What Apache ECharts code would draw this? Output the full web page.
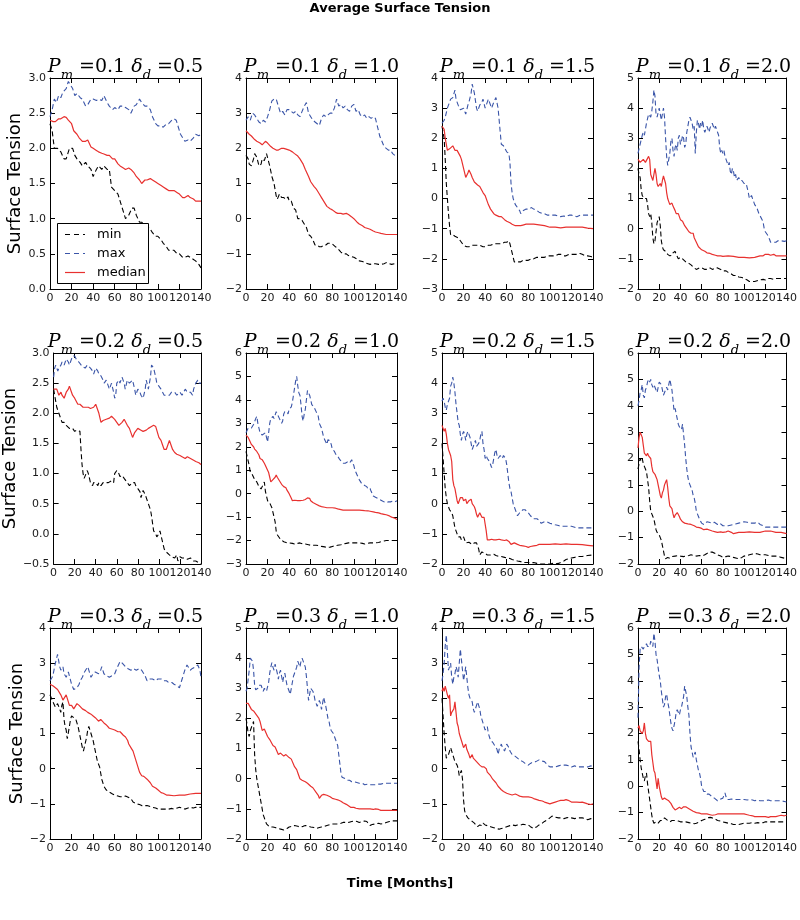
<!DOCTYPE html>
<html>
<head>
<meta charset="utf-8">
<script src="https://cdn.jsdelivr.net/npm/echarts@6/dist/echarts.min.js"></script>
<style>html,body{margin:0;padding:0;background:#fff}#c{width:800px;height:920px}</style>
</head>
<body>
<div id="c"></div>
<script>
// ---- Data (month, value) ----
const pmValues = ['0.1', '0.2', '0.3'];
const deltaValues = ['0.5', '1.0', '1.5', '2.0'];
const xTicks = [0, 20, 40, 60, 80, 100, 120, 140];
const yMin = [0, -2, -3, -2, -0.5, -3, -2, -2, -2, -2, -2, -2];
const yMax = [3, 4, 4, 5, 3, 6, 5, 6, 4, 5, 4, 6];
const yStep = [0.5, 1, 1, 1, 0.5, 1, 1, 1, 1, 1, 1, 1];
const seriesNames = ['min', 'max', 'median'];

// Pm=0.1 delta=0.5
const min1 = [[0,2.35],[2,2.25],[4,2.0],[7,2.0],[10,1.95],[13,1.85],[15,1.85],[18,2.0],[21,2.0],[23,1.9],[25,1.85],[28,1.8],[30,1.75],[33,1.8],[35,1.75],[38,1.7],[40,1.6],[43,1.7],[45,1.75],[48,1.7],[50,1.75],[53,1.7],[55,1.7],[57,1.45],[60,1.4],[63,1.35],[65,1.25],[68,1.1],[70,1.0],[73,1.05],[76,1.15],[78,1.15],[80,1.05],[83,0.95],[85,0.95],[88,0.9],[90,0.9],[93,0.85],[95,0.8],[98,0.75],[100,0.75],[103,0.7],[105,0.65],[108,0.6],[110,0.55],[113,0.55],[115,0.55],[118,0.5],[120,0.5],[123,0.45],[125,0.45],[128,0.47],[130,0.45],[133,0.42],[135,0.4],[138,0.35],[140,0.3]];
const max1 = [[0,2.45],[2,2.55],[4,2.7],[6,2.65],[8,2.75],[10,2.72],[12,2.8],[15,2.85],[17,2.95],[19,2.9],[21,2.85],[23,2.75],[25,2.78],[28,2.72],[30,2.7],[33,2.6],[35,2.62],[38,2.7],[40,2.7],[43,2.68],[45,2.7],[48,2.68],[50,2.75],[53,2.65],[55,2.6],[58,2.55],[60,2.58],[63,2.55],[65,2.6],[68,2.6],[70,2.58],[73,2.55],[75,2.5],[78,2.6],[80,2.62],[83,2.7],[85,2.65],[88,2.6],[90,2.6],[93,2.55],[95,2.45],[98,2.35],[100,2.32],[103,2.32],[105,2.3],[108,2.35],[110,2.35],[113,2.4],[115,2.42],[117,2.4],[119,2.3],[121,2.2],[123,2.15],[125,2.1],[128,2.12],[130,2.1],[133,2.15],[135,2.2],[138,2.18],[140,2.2]];
const med1 = [[0,2.4],[3,2.38],[5,2.38],[8,2.42],[10,2.42],[13,2.45],[15,2.44],[17,2.4],[20,2.35],[22,2.25],[25,2.2],[27,2.15],[30,2.1],[33,2.1],[35,2.12],[38,2.02],[40,2.0],[43,1.97],[45,1.95],[48,1.93],[50,1.92],[53,1.9],[55,1.9],[58,1.85],[60,1.85],[63,1.78],[65,1.75],[68,1.72],[70,1.7],[73,1.72],[75,1.7],[78,1.65],[80,1.6],[83,1.55],[85,1.5],[88,1.55],[90,1.55],[93,1.57],[95,1.55],[98,1.52],[100,1.5],[103,1.47],[105,1.45],[108,1.42],[110,1.4],[113,1.4],[115,1.4],[118,1.37],[120,1.35],[123,1.3],[125,1.3],[128,1.33],[130,1.3],[133,1.28],[135,1.25],[138,1.25],[140,1.25]];

// Pm=0.1 delta=1.0
const min2 = [[0,1.8],[2,1.7],[3,1.55],[5,1.5],[7,1.7],[8,1.85],[10,1.75],[12,1.5],[14,1.55],[15,1.7],[17,1.65],[19,1.85],[20,1.9],[22,1.5],[24,1.2],[26,1.0],[28,0.65],[29,0.55],[31,0.7],[33,0.6],[35,0.6],[37,0.55],[39,0.62],[40,0.5],[42,0.5],[44,0.3],[46,0.25],[48,0.0],[50,0.0],[52,-0.05],[54,-0.15],[56,-0.25],[58,-0.45],[60,-0.5],[62,-0.6],[64,-0.75],[66,-0.75],[68,-0.8],[70,-0.8],[72,-0.75],[74,-0.75],[76,-0.7],[78,-0.7],[80,-0.72],[83,-0.8],[85,-0.85],[88,-0.95],[90,-1.0],[93,-1.0],[95,-1.05],[98,-1.08],[100,-1.1],[103,-1.15],[105,-1.2],[108,-1.22],[110,-1.25],[113,-1.28],[115,-1.3],[118,-1.28],[120,-1.28],[123,-1.3],[125,-1.3],[128,-1.28],[130,-1.25],[133,-1.28],[135,-1.3],[138,-1.28],[140,-1.3]];
const max2 = [[0,2.8],[2,2.9],[4,2.8],[6,3.0],[8,2.95],[10,2.85],[12,2.75],[14,2.7],[16,2.8],[18,2.75],[20,2.9],[22,3.1],[24,3.35],[26,3.4],[28,3.4],[30,3.2],[32,3.0],[34,3.05],[36,2.95],[38,3.1],[40,3.1],[42,3.05],[44,3.0],[46,3.05],[48,2.95],[50,2.9],[52,3.05],[54,3.2],[56,3.3],[58,3.0],[60,2.9],[62,2.8],[64,2.75],[66,2.7],[68,2.65],[70,2.85],[72,2.95],[74,2.9],[76,2.95],[78,3.0],[80,3.0],[82,3.15],[84,3.4],[86,3.2],[88,3.25],[90,3.15],[92,3.2],[94,3.1],[96,3.05],[98,3.2],[100,3.25],[102,3.05],[104,3.1],[106,2.95],[108,2.9],[110,2.95],[112,2.85],[114,2.9],[116,2.85],[118,2.9],[120,2.85],[122,2.6],[124,2.35],[126,2.2],[128,2.05],[130,2.0],[132,1.95],[134,1.95],[136,1.85],[138,1.8],[140,1.75]];
const med2 = [[0,2.5],[3,2.4],[5,2.35],[8,2.25],[10,2.2],[13,2.15],[15,2.1],[18,2.2],[20,2.15],[23,2.05],[25,2.0],[28,1.95],[30,1.95],[33,2.0],[35,2.0],[38,1.97],[40,1.95],[43,1.9],[45,1.85],[48,1.78],[50,1.7],[53,1.55],[55,1.4],[58,1.2],[60,1.05],[63,0.92],[65,0.85],[68,0.7],[70,0.6],[73,0.45],[75,0.35],[78,0.28],[80,0.25],[83,0.18],[85,0.15],[88,0.15],[90,0.13],[93,0.15],[95,0.12],[98,0.05],[100,0.0],[103,-0.1],[105,-0.15],[108,-0.2],[110,-0.25],[113,-0.28],[115,-0.3],[118,-0.35],[120,-0.38],[123,-0.4],[125,-0.42],[130,-0.45],[135,-0.45],[140,-0.45]];

// Pm=0.1 delta=1.5
const min3 = [[0,2.4],[2,2.0],[3,1.3],[4,0.5],[5,0.0],[6,-0.5],[7,-0.9],[8,-1.2],[10,-1.2],[12,-1.25],[15,-1.3],[17,-1.4],[20,-1.55],[23,-1.6],[25,-1.6],[28,-1.55],[30,-1.55],[33,-1.55],[35,-1.55],[38,-1.6],[40,-1.6],[43,-1.55],[45,-1.55],[48,-1.5],[50,-1.5],[53,-1.5],[55,-1.5],[58,-1.45],[60,-1.45],[62,-1.4],[63,-1.5],[64,-1.65],[66,-1.95],[67,-2.1],[68,-2.15],[70,-2.1],[73,-2.1],[75,-2.05],[78,-2.05],[80,-2.05],[83,-2.0],[85,-2.0],[88,-1.95],[90,-1.95],[93,-1.95],[95,-1.95],[98,-1.9],[100,-1.9],[105,-1.9],[108,-1.85],[110,-1.85],[113,-1.9],[115,-1.9],[118,-1.85],[120,-1.85],[125,-1.85],[128,-1.82],[130,-1.85],[133,-1.9],[135,-1.9],[138,-1.92],[140,-1.95]];
const max3 = [[0,2.5],[2,2.6],[3,2.7],[5,3.0],[7,3.2],[8,3.3],[10,3.35],[12,3.6],[13,3.3],[15,3.1],[17,2.95],[18,2.9],[20,3.0],[22,2.8],[24,3.1],[25,3.2],[27,3.5],[28,3.8],[30,3.5],[32,3.0],[33,2.9],[35,3.1],[37,3.2],[38,3.3],[40,3.0],[42,3.2],[43,3.3],[45,3.1],[46,3.0],[48,3.2],[50,3.35],[52,3.0],[53,2.6],[54,2.2],[55,1.8],[57,1.75],[58,1.7],[60,1.55],[62,1.5],[63,1.2],[64,0.5],[65,0.2],[66,0.0],[68,-0.2],[70,-0.3],[72,-0.4],[73,-0.5],[75,-0.4],[78,-0.35],[80,-0.35],[83,-0.3],[85,-0.35],[88,-0.4],[90,-0.45],[93,-0.5],[95,-0.5],[98,-0.55],[100,-0.55],[105,-0.55],[110,-0.6],[113,-0.58],[115,-0.6],[118,-0.55],[120,-0.55],[123,-0.58],[125,-0.6],[128,-0.55],[130,-0.55],[135,-0.55],[140,-0.55]];
const med3 = [[0,2.4],[2,2.3],[3,2.0],[5,1.6],[7,1.65],[8,1.7],[10,1.75],[12,1.6],[14,1.6],[15,1.55],[17,1.4],[18,1.3],[20,1.0],[22,0.7],[24,0.85],[25,0.95],[27,0.8],[28,0.7],[30,0.55],[33,0.45],[35,0.4],[38,0.2],[40,0.1],[42,-0.1],[43,-0.2],[45,-0.35],[46,-0.4],[48,-0.5],[50,-0.55],[53,-0.6],[55,-0.6],[58,-0.7],[60,-0.75],[63,-0.8],[65,-0.85],[68,-0.9],[70,-0.9],[73,-0.9],[75,-0.88],[78,-0.85],[80,-0.85],[85,-0.85],[90,-0.87],[95,-0.9],[100,-0.95],[105,-0.95],[110,-0.97],[115,-0.95],[120,-0.95],[125,-0.95],[130,-0.95],[135,-0.98],[140,-1.0]];

// Pm=0.1 delta=2.0
const min4 = [[0,2.0],[1,1.8],[2,1.7],[3,1.3],[4,1.1],[5,1.05],[6,1.0],[7,1.0],[8,1.0],[9,0.8],[10,0.5],[11,0.4],[12,0.5],[13,0.2],[14,-0.3],[15,-0.5],[16,-0.4],[17,-0.1],[18,0.2],[19,0.3],[20,0.4],[21,0.1],[22,-0.4],[23,-0.6],[24,-0.7],[26,-0.75],[28,-0.85],[30,-0.9],[32,-0.88],[33,-0.8],[35,-0.75],[36,-0.85],[38,-1.0],[40,-0.95],[42,-1.0],[45,-1.1],[48,-1.15],[50,-1.2],[53,-1.3],[55,-1.35],[58,-1.3],[60,-1.3],[63,-1.35],[65,-1.35],[68,-1.3],[70,-1.35],[73,-1.3],[75,-1.3],[78,-1.35],[80,-1.4],[83,-1.4],[85,-1.45],[88,-1.5],[90,-1.55],[93,-1.55],[95,-1.6],[98,-1.62],[100,-1.65],[103,-1.7],[105,-1.75],[108,-1.75],[110,-1.75],[113,-1.72],[115,-1.7],[118,-1.68],[120,-1.7],[123,-1.65],[125,-1.65],[128,-1.68],[130,-1.65],[135,-1.65],[140,-1.65]];
const max4 = [[0,2.5],[2,2.8],[4,3.1],[5,3.2],[6,3.1],[8,3.5],[10,3.8],[12,3.7],[13,3.9],[14,4.2],[15,4.6],[16,4.4],[17,3.8],[18,3.7],[20,4.0],[21,3.8],[22,3.6],[24,4.0],[25,3.7],[26,3.0],[27,2.4],[28,2.1],[29,2.3],[30,2.5],[31,2.9],[32,3.0],[33,2.6],[34,2.4],[35,2.7],[36,2.8],[37,2.6],[38,3.0],[39,3.1],[40,2.8],[41,2.9],[42,3.1],[43,3.0],[44,2.7],[45,2.8],[46,3.2],[48,3.6],[49,3.7],[50,3.6],[51,3.5],[52,3.3],[53,3.4],[54,2.5],[55,3.2],[56,3.6],[57,3.5],[58,3.3],[59,3.5],[60,3.4],[61,3.6],[62,3.3],[63,3.2],[65,3.4],[66,3.3],[67,3.2],[68,3.35],[70,3.5],[71,3.4],[72,3.3],[73,3.4],[75,3.2],[76,3.1],[77,2.7],[78,2.5],[79,2.6],[80,2.5],[81,2.6],[82,2.4],[83,2.3],[84,2.2],[85,2.1],[86,2.2],[87,1.9],[88,1.8],[89,2.0],[90,1.9],[91,1.7],[92,1.8],[93,1.6],[95,1.7],[96,1.6],[97,1.55],[98,1.6],[100,1.5],[102,1.5],[103,1.45],[104,1.2],[105,1.0],[106,1.05],[107,1.1],[108,1.1],[109,0.9],[110,0.8],[112,0.7],[114,0.5],[115,0.5],[117,0.3],[118,0.2],[119,0.0],[120,-0.1],[122,-0.2],[124,-0.35],[125,-0.45],[128,-0.45],[130,-0.45],[132,-0.4],[135,-0.4],[138,-0.42],[140,-0.4]];
const med4 = [[0,2.3],[2,2.2],[3,2.2],[5,2.3],[7,2.2],[8,2.25],[10,2.4],[11,2.3],[12,1.8],[13,1.7],[14,1.6],[15,1.8],[16,2.0],[17,1.8],[18,1.5],[19,1.4],[20,1.4],[21,1.5],[22,1.4],[23,1.6],[24,1.75],[25,1.7],[26,1.5],[27,1.2],[28,1.0],[29,0.9],[30,0.8],[32,0.85],[33,0.75],[35,0.6],[36,0.5],[38,0.5],[40,0.3],[42,0.25],[44,0.1],[46,0.0],[48,-0.1],[50,-0.15],[51,-0.2],[52,-0.15],[53,-0.3],[54,-0.25],[55,-0.45],[57,-0.6],[58,-0.65],[60,-0.7],[63,-0.75],[65,-0.8],[68,-0.82],[70,-0.85],[73,-0.88],[75,-0.9],[78,-0.9],[80,-0.92],[85,-0.9],[90,-0.92],[95,-0.95],[100,-0.95],[105,-0.97],[110,-0.95],[115,-0.9],[118,-0.9],[120,-0.85],[123,-0.85],[125,-0.88],[128,-0.85],[130,-0.9],[135,-0.9],[140,-0.9]];

// Pm=0.2 delta=0.5
const min5 = [[0,2.4],[2,2.2],[3,2.1],[5,2.0],[7,1.9],[8,1.85],[10,1.85],[12,1.8],[15,1.75],[18,1.75],[20,1.7],[22,1.72],[23,1.75],[25,1.7],[26,1.4],[27,1.15],[28,1.0],[29,0.92],[30,0.95],[32,1.05],[33,1.0],[35,0.85],[37,0.8],[38,0.85],[40,0.85],[42,0.8],[43,0.85],[45,0.8],[47,0.85],[48,0.88],[50,0.85],[52,0.85],[55,0.88],[57,0.85],[58,1.0],[60,1.05],[62,1.0],[63,0.95],[65,0.97],[67,0.92],[68,0.9],[70,0.85],[72,0.8],[73,0.82],[75,0.85],[77,0.85],[78,0.8],[80,0.75],[82,0.7],[83,0.6],[85,0.72],[87,0.65],[88,0.6],[90,0.5],[92,0.4],[93,0.3],[95,0.05],[97,0.0],[98,-0.05],[100,0.0],[101,0.05],[103,-0.1],[105,-0.25],[107,-0.3],[110,-0.35],[112,-0.38],[115,-0.4],[117,-0.35],[118,-0.45],[120,-0.38],[122,-0.4],[125,-0.4],[127,-0.42],[130,-0.4],[133,-0.45],[135,-0.45],[138,-0.48],[140,-0.5]];
const max5 = [[0,2.6],[1,2.75],[2,2.8],[4,2.7],[5,2.75],[7,2.8],[8,2.85],[10,2.8],[12,2.9],[14,2.85],[15,2.8],[17,2.9],[18,2.95],[20,2.95],[22,2.88],[24,2.85],[25,2.85],[27,2.78],[28,2.8],[30,2.75],[32,2.8],[33,2.8],[35,2.75],[37,2.7],[38,2.65],[40,2.75],[42,2.7],[43,2.65],[45,2.62],[47,2.55],[48,2.5],[50,2.55],[52,2.45],[53,2.4],[55,2.5],[57,2.35],[58,2.25],[59,2.3],[60,2.5],[62,2.55],[63,2.5],[65,2.6],[67,2.5],[68,2.4],[70,2.55],[72,2.5],[73,2.5],[75,2.55],[77,2.4],[78,2.3],[80,2.4],[82,2.35],[83,2.3],[85,2.25],[87,2.4],[88,2.55],[90,2.4],[92,2.6],[93,2.8],[95,2.75],[97,2.6],[98,2.5],[100,2.45],[102,2.4],[103,2.4],[105,2.3],[107,2.3],[108,2.3],[110,2.3],[112,2.35],[115,2.35],[117,2.3],[118,2.3],[120,2.35],[122,2.3],[125,2.4],[127,2.35],[130,2.35],[132,2.3],[133,2.4],[135,2.5],[137,2.55],[138,2.5],[140,2.5]];
const med5 = [[0,2.4],[3,2.4],[5,2.3],[7,2.35],[8,2.3],[10,2.25],[12,2.35],[14,2.4],[15,2.45],[17,2.35],[18,2.3],[20,2.25],[23,2.15],[25,2.15],[28,2.1],[30,2.1],[33,2.1],[35,2.08],[38,2.1],[40,2.15],[42,2.05],[43,2.0],[45,1.85],[47,1.88],[48,1.9],[50,1.9],[53,1.92],[55,1.95],[58,1.9],[60,1.85],[62,1.8],[63,1.8],[65,1.85],[67,1.9],[68,1.9],[70,1.8],[72,1.75],[73,1.7],[75,1.6],[77,1.68],[78,1.7],[80,1.75],[83,1.72],[85,1.7],[88,1.72],[90,1.75],[93,1.78],[95,1.8],[97,1.78],[98,1.75],[100,1.6],[102,1.55],[103,1.5],[105,1.4],[107,1.4],[108,1.45],[110,1.55],[112,1.45],[113,1.4],[115,1.35],[117,1.32],[120,1.3],[122,1.28],[125,1.25],[127,1.28],[128,1.3],[130,1.25],[133,1.22],[135,1.2],[138,1.18],[140,1.15]];

// Pm=0.2 delta=1.0
const min6 = [[0,1.8],[1,1.6],[2,1.4],[3,1.2],[4,0.9],[5,0.85],[6,0.8],[7,0.7],[8,0.6],[10,0.5],[11,0.4],[12,0.3],[13,0.25],[14,0.2],[15,0.3],[16,0.4],[17,0.5],[18,0.1],[19,-0.1],[20,-0.3],[21,-0.35],[22,-0.4],[23,-0.5],[24,-0.6],[25,-0.8],[26,-1.0],[27,-1.2],[28,-1.6],[29,-1.75],[30,-1.8],[32,-1.95],[33,-2.0],[35,-2.05],[38,-2.1],[40,-2.1],[43,-2.12],[45,-2.15],[48,-2.12],[50,-2.1],[53,-2.15],[55,-2.15],[58,-2.18],[60,-2.2],[63,-2.2],[65,-2.2],[68,-2.22],[70,-2.25],[73,-2.27],[75,-2.3],[78,-2.28],[80,-2.25],[83,-2.22],[85,-2.2],[88,-2.18],[90,-2.15],[93,-2.12],[95,-2.1],[98,-2.1],[100,-2.1],[103,-2.1],[105,-2.1],[108,-2.12],[110,-2.15],[113,-2.12],[115,-2.1],[118,-2.1],[120,-2.1],[123,-2.08],[125,-2.05],[128,-2.02],[130,-2.0],[133,-2.0],[135,-2.0],[138,-2.0],[140,-2.0]];
const max6 = [[0,2.6],[2,2.8],[3,2.75],[5,2.8],[7,2.95],[8,3.0],[9,3.2],[10,3.3],[11,3.0],[12,2.8],[13,2.6],[15,2.5],[16,2.55],[18,2.6],[19,2.4],[20,2.2],[21,2.6],[22,3.0],[23,3.2],[25,3.3],[26,3.2],[28,3.5],[29,3.4],[30,3.4],[31,3.2],[33,3.0],[34,3.1],[35,3.4],[36,3.5],[38,3.5],[39,3.4],[40,3.6],[42,3.7],[43,3.9],[44,4.2],[45,4.5],[46,4.8],[47,5.0],[48,4.6],[49,4.3],[50,4.2],[51,3.8],[52,3.3],[53,3.1],[54,3.4],[55,3.6],[56,4.0],[57,4.4],[58,4.3],[59,4.2],[60,4.0],[61,3.8],[62,3.8],[63,3.7],[64,3.6],[65,3.5],[66,3.4],[67,3.3],[68,3.0],[69,2.9],[70,2.8],[71,2.6],[72,2.4],[73,2.3],[74,2.2],[75,2.1],[76,2.3],[78,2.25],[79,2.1],[80,1.9],[82,1.8],[83,1.7],[85,1.6],[87,1.45],[88,1.4],[90,1.3],[92,1.3],[94,1.35],[96,1.3],[98,1.45],[99,1.3],[100,1.2],[101,1.0],[102,0.9],[103,0.8],[105,0.6],[107,0.45],[108,0.4],[110,0.35],[112,0.3],[113,0.2],[115,0.22],[116,0.1],[118,-0.1],[120,-0.15],[122,-0.2],[124,-0.25],[126,-0.3],[128,-0.35],[130,-0.38],[132,-0.35],[134,-0.35],[136,-0.32],[138,-0.35],[140,-0.3]];
const med6 = [[0,2.5],[2,2.4],[3,2.3],[5,2.1],[7,2.0],[8,1.9],[10,1.8],[12,1.65],[13,1.5],[15,1.45],[17,1.3],[18,1.2],[20,1.0],[21,0.9],[22,0.7],[23,0.5],[24,0.55],[25,0.6],[26,0.55],[27,0.7],[28,0.8],[29,0.7],[30,0.65],[31,0.55],[32,0.5],[33,0.4],[35,0.3],[37,0.25],[38,0.15],[40,0.0],[41,-0.1],[42,-0.2],[43,-0.3],[45,-0.28],[48,-0.3],[50,-0.3],[53,-0.28],[55,-0.25],[57,-0.18],[58,-0.15],[59,-0.2],[60,-0.3],[62,-0.38],[65,-0.45],[68,-0.52],[70,-0.55],[73,-0.58],[75,-0.6],[78,-0.6],[80,-0.6],[83,-0.62],[85,-0.65],[88,-0.68],[90,-0.7],[95,-0.7],[100,-0.7],[105,-0.7],[110,-0.72],[113,-0.73],[115,-0.75],[118,-0.78],[120,-0.8],[123,-0.82],[125,-0.85],[128,-0.88],[130,-0.9],[133,-0.95],[135,-1.0],[138,-1.05],[140,-1.1]];

// Pm=0.2 delta=1.5
const min7 = [[0,2.0],[1,1.5],[2,1.0],[3,0.5],[4,0.2],[5,0.0],[6,-0.1],[7,-0.2],[8,-0.25],[9,-0.3],[10,-0.4],[11,-0.6],[12,-0.8],[13,-0.9],[14,-1.0],[15,-1.1],[16,-1.15],[17,-1.1],[18,-1.2],[19,-1.15],[20,-1.1],[21,-1.2],[22,-1.3],[23,-1.3],[25,-1.28],[26,-1.3],[28,-1.35],[30,-1.3],[32,-1.3],[33,-1.32],[34,-1.5],[35,-1.7],[36,-1.65],[37,-1.6],[38,-1.65],[40,-1.65],[42,-1.7],[45,-1.7],[48,-1.68],[50,-1.72],[53,-1.75],[55,-1.75],[58,-1.78],[60,-1.8],[63,-1.82],[65,-1.85],[68,-1.88],[70,-1.9],[73,-1.92],[75,-1.95],[78,-1.95],[80,-1.95],[83,-1.96],[85,-1.95],[88,-1.98],[90,-2.0],[93,-2.0],[95,-2.0],[100,-2.0],[103,-1.98],[105,-2.0],[108,-1.98],[110,-1.95],[113,-1.9],[115,-1.85],[118,-1.82],[120,-1.8],[123,-1.78],[125,-1.75],[130,-1.75],[135,-1.72],[140,-1.7]];
const max7 = [[0,3.4],[1,3.5],[2,3.4],[3,3.2],[4,3.1],[5,3.3],[6,3.4],[7,3.5],[8,3.9],[9,4.0],[10,4.2],[11,4.0],[12,3.7],[13,3.3],[14,3.0],[15,2.7],[16,2.6],[17,2.3],[18,2.1],[19,2.3],[20,2.4],[21,2.3],[22,2.1],[23,2.3],[24,2.4],[25,2.3],[26,2.2],[27,2.0],[28,1.8],[29,1.9],[30,2.0],[31,2.1],[32,1.9],[33,1.9],[34,2.0],[35,2.1],[36,2.3],[37,2.4],[38,2.0],[39,1.8],[40,1.5],[41,1.6],[42,1.5],[43,1.5],[44,1.4],[45,1.3],[46,1.2],[47,1.3],[48,1.5],[49,1.7],[50,1.8],[51,1.6],[52,1.5],[53,1.5],[54,1.6],[55,1.6],[56,1.5],[57,1.6],[58,1.6],[59,1.5],[60,1.3],[61,1.0],[62,0.7],[63,0.5],[64,0.4],[65,0.2],[66,0.0],[67,-0.1],[68,-0.2],[70,-0.4],[71,-0.35],[72,-0.3],[73,-0.25],[75,-0.2],[77,-0.2],[78,-0.25],[80,-0.3],[82,-0.4],[83,-0.45],[85,-0.5],[88,-0.5],[90,-0.55],[92,-0.65],[93,-0.7],[95,-0.6],[97,-0.6],[100,-0.65],[103,-0.68],[105,-0.7],[108,-0.72],[110,-0.75],[115,-0.75],[120,-0.75],[125,-0.8],[130,-0.8],[135,-0.8],[140,-0.8]];
const med7 = [[0,2.6],[1,2.5],[2,2.4],[3,2.5],[4,2.3],[5,2.0],[6,1.8],[7,1.7],[8,1.6],[9,1.4],[10,0.8],[11,0.6],[12,0.5],[13,0.3],[14,0.1],[15,0.0],[16,0.0],[17,0.2],[18,0.25],[19,0.2],[20,0.1],[21,0.05],[22,0.15],[23,0.0],[24,-0.05],[25,0.1],[26,0.1],[27,0.15],[28,0.0],[29,-0.05],[30,-0.1],[31,-0.2],[32,-0.35],[33,-0.45],[34,-0.4],[35,-0.3],[36,-0.35],[37,-0.45],[38,-0.5],[39,-0.45],[40,-0.5],[41,-0.9],[42,-1.2],[44,-1.2],[46,-1.18],[48,-1.2],[50,-1.2],[53,-1.18],[55,-1.2],[58,-1.22],[60,-1.2],[62,-1.25],[63,-1.28],[64,-1.35],[65,-1.35],[67,-1.3],[70,-1.35],[72,-1.38],[75,-1.4],[78,-1.42],[80,-1.45],[82,-1.42],[85,-1.4],[88,-1.38],[90,-1.35],[95,-1.35],[100,-1.35],[105,-1.33],[110,-1.35],[115,-1.33],[120,-1.35],[125,-1.35],[130,-1.36],[135,-1.38],[140,-1.4]];

// Pm=0.2 delta=2.0
const min8 = [[0,1.6],[1,1.8],[2,2.0],[3,1.9],[4,2.0],[5,1.8],[6,1.7],[7,1.6],[8,1.5],[9,1.2],[10,0.9],[11,0.4],[12,0.0],[13,-0.1],[14,-0.2],[15,-0.3],[16,-0.5],[17,-0.7],[18,-0.8],[19,-0.75],[20,-0.9],[21,-1.0],[22,-1.1],[23,-1.3],[24,-1.5],[25,-1.7],[26,-1.8],[27,-1.75],[28,-1.75],[30,-1.78],[32,-1.72],[35,-1.7],[38,-1.68],[40,-1.7],[43,-1.72],[45,-1.7],[48,-1.68],[50,-1.65],[53,-1.68],[55,-1.7],[58,-1.68],[60,-1.7],[63,-1.65],[65,-1.6],[68,-1.55],[70,-1.55],[73,-1.6],[75,-1.65],[78,-1.7],[80,-1.75],[83,-1.72],[85,-1.7],[88,-1.72],[90,-1.75],[93,-1.78],[95,-1.8],[98,-1.75],[100,-1.7],[103,-1.68],[105,-1.65],[108,-1.62],[110,-1.6],[113,-1.62],[115,-1.65],[118,-1.65],[120,-1.65],[123,-1.68],[125,-1.7],[128,-1.7],[130,-1.7],[133,-1.72],[135,-1.75],[138,-1.78],[140,-1.8]];
const max8 = [[0,4.0],[1,4.2],[2,4.5],[3,4.6],[4,4.8],[5,4.4],[6,4.3],[7,4.6],[8,4.7],[9,4.9],[10,5.0],[11,4.9],[12,5.0],[13,4.8],[14,4.7],[15,4.8],[16,4.8],[17,4.6],[18,4.5],[19,4.7],[20,4.9],[21,4.85],[22,4.8],[23,4.6],[24,4.4],[25,4.5],[26,4.6],[27,4.7],[28,4.6],[29,4.8],[30,5.0],[31,4.8],[32,4.6],[33,4.2],[34,3.8],[35,3.9],[36,3.7],[37,3.5],[38,3.3],[39,3.2],[40,3.2],[41,3.1],[42,3.3],[43,2.9],[44,2.5],[45,2.0],[46,1.6],[47,1.3],[48,1.1],[49,1.0],[50,0.9],[51,0.8],[52,0.6],[53,0.5],[54,0.3],[55,0.0],[56,-0.1],[57,-0.2],[58,-0.3],[60,-0.45],[62,-0.5],[63,-0.45],[65,-0.4],[67,-0.42],[68,-0.4],[70,-0.45],[72,-0.42],[73,-0.4],[75,-0.5],[77,-0.45],[78,-0.4],[80,-0.55],[82,-0.55],[85,-0.55],[88,-0.52],[90,-0.5],[92,-0.48],[95,-0.45],[98,-0.42],[100,-0.4],[103,-0.42],[105,-0.45],[108,-0.45],[110,-0.45],[113,-0.42],[115,-0.5],[118,-0.55],[120,-0.6],[125,-0.6],[130,-0.6],[135,-0.6],[140,-0.6]];
const med8 = [[0,2.4],[1,2.8],[2,3.0],[3,2.9],[4,2.8],[5,2.5],[6,2.2],[7,2.15],[8,2.1],[9,2.2],[10,2.1],[11,2.15],[12,2.0],[13,1.7],[14,1.5],[15,1.45],[16,1.4],[17,1.3],[18,1.2],[19,1.0],[20,0.8],[21,0.6],[22,0.5],[23,0.7],[24,0.8],[25,1.0],[26,1.1],[27,1.2],[28,0.9],[29,0.5],[30,0.2],[31,0.15],[32,0.1],[33,-0.1],[34,-0.25],[35,-0.15],[36,-0.1],[37,-0.05],[38,0.0],[39,-0.2],[40,-0.3],[42,-0.4],[44,-0.45],[45,-0.5],[47,-0.48],[50,-0.5],[53,-0.55],[55,-0.6],[58,-0.62],[60,-0.65],[62,-0.7],[65,-0.68],[68,-0.72],[70,-0.75],[73,-0.78],[75,-0.8],[78,-0.78],[80,-0.8],[83,-0.78],[85,-0.75],[88,-0.8],[90,-0.85],[93,-0.82],[95,-0.8],[100,-0.8],[105,-0.78],[110,-0.8],[115,-0.8],[120,-0.75],[125,-0.75],[130,-0.8],[135,-0.8],[140,-0.85]];

// Pm=0.3 delta=0.5
const min9 = [[0,2.1],[2,1.95],[3,1.9],[5,1.75],[7,1.85],[8,1.9],[9,1.7],[10,1.6],[11,1.8],[12,1.9],[13,1.4],[14,1.2],[15,1.1],[16,0.85],[17,0.8],[18,1.2],[19,1.4],[20,1.5],[22,1.45],[24,1.4],[26,1.2],[28,0.9],[30,0.6],[31,0.5],[32,0.55],[34,0.9],[35,1.1],[36,1.2],[37,1.1],[38,1.0],[40,0.8],[42,0.5],[44,0.2],[46,0.05],[47,0.0],[48,-0.3],[50,-0.5],[52,-0.6],[54,-0.65],[55,-0.7],[58,-0.72],[60,-0.75],[63,-0.78],[65,-0.8],[68,-0.8],[70,-0.78],[73,-0.82],[75,-0.85],[77,-0.95],[78,-1.0],[80,-1.0],[83,-1.02],[85,-1.05],[88,-1.05],[90,-1.05],[93,-1.08],[95,-1.1],[98,-1.12],[100,-1.15],[103,-1.15],[105,-1.15],[108,-1.15],[110,-1.15],[113,-1.13],[115,-1.15],[118,-1.12],[120,-1.1],[123,-1.12],[125,-1.15],[128,-1.12],[130,-1.1],[133,-1.12],[135,-1.1],[138,-1.1],[140,-1.1]];
const max9 = [[0,2.5],[2,2.6],[3,2.7],[5,3.0],[7,3.25],[8,3.2],[9,2.9],[10,2.8],[12,2.9],[13,2.7],[15,2.6],[17,2.75],[18,2.7],[20,2.4],[22,2.25],[23,2.2],[25,2.3],[27,2.4],[28,2.5],[30,2.6],[32,2.75],[33,2.8],[35,2.9],[36,2.85],[38,2.6],[40,2.7],[42,2.75],[43,2.8],[45,2.7],[47,2.8],[48,2.9],[50,2.7],[52,2.65],[55,2.6],[58,2.65],[60,2.7],[62,2.85],[65,3.05],[67,3.0],[70,2.9],[72,2.85],[75,2.8],[77,2.85],[78,2.9],[80,2.8],[83,2.85],[85,2.8],[88,2.65],[90,2.5],[92,2.55],[95,2.55],[98,2.5],[100,2.55],[103,2.55],[105,2.5],[108,2.5],[110,2.45],[113,2.45],[115,2.4],[118,2.35],[120,2.3],[122,2.5],[123,2.6],[125,2.8],[127,2.95],[128,2.9],[130,2.8],[132,2.85],[135,2.9],[137,2.95],[138,3.0],[139,2.8],[140,2.6]];
const med9 = [[0,2.4],[3,2.35],[5,2.3],[7,2.25],[8,2.2],[10,2.1],[12,1.95],[13,2.0],[15,2.1],[17,1.9],[18,1.8],[20,1.8],[22,1.7],[23,1.75],[25,1.85],[27,1.8],[30,1.7],[33,1.65],[35,1.6],[38,1.55],[40,1.5],[42,1.45],[43,1.5],[45,1.35],[47,1.4],[48,1.4],[50,1.3],[52,1.25],[55,1.15],[58,1.12],[60,1.1],[63,1.05],[65,1.05],[68,0.95],[70,0.9],[72,0.8],[73,0.7],[75,0.6],[77,0.5],[78,0.45],[80,0.2],[82,0.0],[83,-0.1],[85,-0.2],[87,-0.22],[88,-0.25],[90,-0.3],[93,-0.4],[95,-0.5],[98,-0.55],[100,-0.6],[103,-0.68],[105,-0.7],[108,-0.75],[110,-0.75],[115,-0.77],[120,-0.75],[125,-0.75],[130,-0.72],[135,-0.7],[140,-0.7]];

// Pm=0.3 delta=1.0
const min10 = [[0,2.0],[1,1.8],[2,1.5],[3,1.4],[4,1.6],[5,1.7],[6,1.8],[7,1.9],[8,0.8],[9,0.3],[10,0.0],[11,-0.2],[12,-0.4],[13,-0.6],[14,-0.8],[15,-1.0],[16,-1.2],[17,-1.3],[18,-1.4],[19,-1.5],[20,-1.55],[22,-1.6],[23,-1.6],[25,-1.6],[27,-1.62],[28,-1.65],[30,-1.65],[33,-1.68],[35,-1.7],[38,-1.65],[40,-1.6],[43,-1.58],[45,-1.55],[48,-1.58],[50,-1.6],[53,-1.58],[55,-1.55],[58,-1.58],[60,-1.6],[63,-1.62],[65,-1.65],[68,-1.62],[70,-1.6],[73,-1.58],[75,-1.55],[78,-1.52],[80,-1.5],[83,-1.5],[85,-1.5],[88,-1.48],[90,-1.45],[93,-1.45],[95,-1.45],[98,-1.42],[100,-1.4],[103,-1.42],[105,-1.45],[108,-1.42],[110,-1.4],[112,-1.42],[113,-1.45],[115,-1.55],[117,-1.52],[120,-1.5],[123,-1.48],[125,-1.5],[128,-1.48],[130,-1.45],[133,-1.42],[135,-1.4],[138,-1.4],[140,-1.4]];
const max10 = [[0,2.9],[1,3.0],[2,3.3],[3,3.6],[4,4.0],[5,4.05],[6,3.9],[7,3.6],[8,3.1],[9,2.95],[10,2.9],[11,3.0],[12,3.1],[13,3.15],[14,3.1],[15,3.0],[16,2.9],[17,3.0],[18,3.0],[19,2.9],[20,2.85],[21,3.2],[22,3.5],[23,3.7],[24,3.85],[25,3.7],[26,3.6],[27,3.8],[28,3.8],[29,3.5],[30,3.3],[31,3.5],[32,3.6],[33,3.4],[34,3.2],[35,3.4],[36,3.5],[37,3.3],[38,3.1],[39,3.0],[40,2.9],[41,2.8],[42,3.0],[43,3.2],[44,3.4],[45,3.5],[46,3.6],[47,3.7],[48,3.9],[49,3.8],[50,3.7],[51,3.9],[52,4.0],[53,3.9],[54,3.8],[55,3.7],[56,3.4],[57,3.0],[58,2.6],[59,2.8],[60,3.0],[61,3.05],[62,2.9],[63,2.8],[64,2.6],[65,2.5],[66,2.4],[67,2.5],[68,2.6],[69,2.5],[70,2.3],[71,2.5],[72,2.7],[73,2.65],[74,2.4],[75,2.2],[76,2.0],[77,1.9],[78,1.7],[79,1.6],[80,1.6],[81,1.5],[82,1.4],[83,1.3],[84,1.2],[85,1.1],[86,0.8],[87,0.5],[88,0.2],[89,0.05],[90,0.0],[92,0.0],[94,-0.05],[96,-0.05],[98,-0.1],[100,-0.1],[102,-0.12],[105,-0.15],[108,-0.15],[110,-0.2],[113,-0.18],[115,-0.2],[118,-0.2],[120,-0.2],[123,-0.18],[125,-0.18],[128,-0.15],[130,-0.15],[135,-0.15],[140,-0.15]];
const med10 = [[0,2.5],[2,2.5],[3,2.55],[5,2.3],[7,2.25],[8,2.2],[10,2.1],[12,2.0],[13,1.9],[15,1.6],[17,1.65],[18,1.6],[20,1.4],[22,1.3],[23,1.25],[25,1.1],[27,1.05],[28,1.0],[30,0.8],[32,0.85],[33,0.9],[35,0.75],[37,0.8],[38,0.8],[40,0.7],[42,0.65],[43,0.6],[45,0.4],[47,0.3],[48,0.2],[50,0.0],[52,-0.05],[53,-0.05],[55,-0.1],[57,-0.15],[58,-0.15],[60,-0.25],[62,-0.3],[63,-0.35],[65,-0.45],[67,-0.55],[68,-0.65],[70,-0.55],[72,-0.52],[75,-0.55],[78,-0.6],[80,-0.65],[83,-0.68],[85,-0.7],[88,-0.75],[90,-0.8],[93,-0.85],[95,-0.9],[97,-0.95],[98,-1.0],[100,-0.95],[102,-0.98],[105,-1.0],[108,-1.0],[110,-1.0],[113,-1.0],[115,-1.0],[118,-1.02],[120,-1.0],[123,-1.02],[125,-1.05],[128,-1.05],[130,-1.05],[135,-1.05],[140,-1.05]];

// Pm=0.3 delta=1.5
const min11 = [[0,2.0],[1,1.5],[2,1.0],[3,0.6],[4,0.3],[5,0.35],[6,0.4],[7,0.5],[8,0.6],[9,0.5],[10,0.4],[11,0.3],[12,0.2],[13,0.15],[14,0.1],[15,0.0],[16,-0.2],[17,-0.15],[18,-0.05],[19,-0.3],[20,-0.9],[21,-1.2],[22,-1.3],[23,-1.35],[24,-1.4],[25,-1.42],[26,-1.45],[27,-1.4],[28,-1.5],[30,-1.55],[31,-1.6],[33,-1.65],[34,-1.6],[35,-1.6],[37,-1.62],[38,-1.55],[40,-1.6],[42,-1.62],[45,-1.65],[48,-1.68],[50,-1.7],[53,-1.72],[55,-1.7],[58,-1.68],[60,-1.65],[63,-1.62],[65,-1.6],[68,-1.62],[70,-1.6],[73,-1.6],[75,-1.58],[78,-1.6],[80,-1.6],[82,-1.65],[85,-1.7],[88,-1.65],[90,-1.6],[93,-1.55],[95,-1.5],[98,-1.45],[100,-1.4],[102,-1.35],[105,-1.38],[108,-1.4],[110,-1.4],[113,-1.42],[115,-1.4],[118,-1.38],[120,-1.4],[123,-1.42],[125,-1.4],[128,-1.4],[130,-1.4],[133,-1.42],[135,-1.45],[138,-1.42],[140,-1.4]];
const max11 = [[0,2.5],[1,2.7],[2,3.0],[3,3.5],[4,3.8],[5,3.3],[6,2.8],[7,2.9],[8,3.0],[9,2.6],[10,2.4],[11,2.6],[12,2.7],[13,2.9],[14,2.8],[15,2.6],[16,3.0],[17,3.4],[18,3.1],[19,2.8],[20,2.5],[21,2.7],[22,2.9],[23,2.6],[24,2.3],[25,2.1],[26,2.0],[27,1.95],[28,1.9],[29,1.7],[30,1.6],[31,1.7],[32,1.8],[33,1.9],[34,1.8],[35,1.7],[36,1.5],[37,1.4],[38,1.4],[39,1.2],[40,1.1],[41,1.15],[42,1.2],[43,1.0],[44,0.9],[45,0.8],[46,0.85],[47,0.75],[48,0.7],[49,0.65],[50,0.6],[51,0.55],[52,0.4],[53,0.55],[54,0.6],[55,0.7],[56,0.6],[57,0.55],[58,0.5],[59,0.6],[60,0.7],[61,0.65],[62,0.6],[63,0.5],[64,0.45],[65,0.4],[66,0.35],[68,0.35],[70,0.3],[72,0.25],[73,0.2],[75,0.2],[77,0.15],[78,0.12],[80,0.1],[82,0.15],[84,0.18],[85,0.2],[87,0.2],[88,0.25],[90,0.25],[92,0.22],[95,0.2],[98,0.1],[100,0.05],[103,0.05],[105,0.05],[108,0.08],[110,0.1],[113,0.1],[115,0.1],[118,0.08],[120,0.05],[123,0.08],[125,0.05],[128,0.05],[130,0.05],[135,0.05],[138,0.08],[140,0.05]];
const med11 = [[0,2.2],[1,2.3],[2,2.2],[3,2.35],[4,2.4],[5,2.1],[6,2.0],[7,2.1],[8,1.5],[9,1.6],[10,1.55],[11,1.7],[12,1.9],[13,1.6],[14,1.3],[15,1.2],[16,1.0],[17,0.9],[18,0.8],[19,0.7],[20,0.6],[21,0.65],[22,0.7],[23,0.55],[24,0.5],[25,0.4],[26,0.3],[27,0.35],[28,0.4],[29,0.3],[30,0.25],[32,0.2],[33,0.15],[35,0.1],[37,0.05],[38,0.0],[39,0.05],[40,0.1],[41,0.0],[42,-0.1],[43,-0.15],[45,-0.2],[47,-0.3],[48,-0.35],[50,-0.4],[52,-0.5],[53,-0.55],[55,-0.6],[57,-0.65],[58,-0.68],[60,-0.7],[62,-0.72],[65,-0.75],[68,-0.72],[70,-0.75],[72,-0.78],[75,-0.8],[78,-0.8],[80,-0.8],[83,-0.82],[85,-0.85],[88,-0.88],[90,-0.9],[93,-0.92],[95,-0.95],[98,-0.98],[100,-1.0],[102,-0.98],[105,-0.95],[108,-0.92],[110,-0.9],[113,-0.9],[115,-0.88],[117,-0.9],[120,-0.95],[123,-0.95],[125,-0.95],[128,-0.96],[130,-0.95],[133,-0.98],[135,-1.0],[138,-1.02],[140,-1.0]];

// Pm=0.3 delta=2.0
const min12 = [[0,1.7],[1,1.4],[2,1.0],[3,0.7],[4,0.5],[5,0.3],[6,0.2],[7,0.4],[8,0.5],[9,0.1],[10,-0.2],[11,-0.5],[12,-0.8],[13,-1.1],[14,-1.3],[15,-1.4],[16,-1.45],[17,-1.35],[18,-1.3],[19,-1.4],[20,-1.35],[21,-1.3],[22,-1.25],[23,-1.3],[25,-1.2],[26,-1.25],[28,-1.3],[30,-1.35],[32,-1.3],[33,-1.25],[35,-1.3],[38,-1.32],[40,-1.35],[43,-1.35],[45,-1.35],[48,-1.38],[50,-1.4],[53,-1.42],[55,-1.4],[58,-1.35],[60,-1.3],[63,-1.25],[65,-1.2],[68,-1.18],[70,-1.2],[73,-1.25],[75,-1.3],[78,-1.32],[80,-1.35],[83,-1.38],[85,-1.4],[88,-1.42],[90,-1.45],[93,-1.45],[95,-1.45],[98,-1.42],[100,-1.4],[103,-1.4],[105,-1.4],[108,-1.38],[110,-1.4],[113,-1.38],[115,-1.4],[118,-1.38],[120,-1.35],[123,-1.35],[125,-1.35],[128,-1.35],[130,-1.35],[133,-1.35],[135,-1.35],[138,-1.35],[140,-1.35]];
const max12 = [[0,2.6],[1,4.5],[2,5.2],[3,5.3],[4,5.25],[5,5.2],[6,5.3],[7,5.25],[8,5.4],[9,5.3],[10,5.35],[11,5.3],[12,5.5],[13,5.4],[14,5.3],[15,5.8],[16,5.5],[17,5.0],[18,4.8],[19,4.5],[20,4.2],[21,4.0],[22,3.6],[23,3.3],[24,3.0],[25,3.1],[26,3.4],[27,3.5],[28,3.2],[29,3.0],[30,2.7],[31,2.4],[32,2.2],[33,2.1],[34,2.3],[35,2.5],[36,2.8],[37,2.9],[38,2.8],[39,2.7],[40,2.9],[41,3.0],[42,3.2],[43,3.4],[44,3.8],[45,3.6],[46,3.4],[47,3.0],[48,2.7],[49,2.0],[50,1.5],[51,1.3],[52,1.1],[53,1.2],[54,1.3],[55,1.0],[56,0.8],[57,0.6],[58,0.5],[59,0.3],[60,0.0],[61,-0.1],[62,-0.2],[63,-0.25],[64,-0.2],[65,-0.3],[66,-0.25],[67,-0.3],[68,-0.35],[70,-0.4],[72,-0.45],[73,-0.5],[75,-0.55],[77,-0.5],[78,-0.45],[80,-0.45],[81,-0.35],[82,-0.25],[83,-0.4],[84,-0.5],[86,-0.5],[88,-0.48],[90,-0.5],[93,-0.5],[95,-0.5],[98,-0.5],[100,-0.5],[103,-0.52],[105,-0.5],[108,-0.52],[110,-0.55],[113,-0.52],[115,-0.55],[118,-0.55],[120,-0.55],[123,-0.52],[125,-0.55],[128,-0.55],[130,-0.55],[133,-0.55],[135,-0.55],[138,-0.58],[140,-0.6]];
const med12 = [[0,2.2],[1,2.3],[2,2.1],[3,2.05],[4,2.0],[5,2.1],[6,2.4],[7,2.0],[8,1.8],[9,1.75],[10,1.7],[11,1.75],[12,1.7],[13,1.2],[14,0.9],[15,0.6],[16,0.5],[17,0.2],[18,-0.1],[19,0.3],[20,0.0],[21,-0.2],[22,-0.4],[23,-0.5],[24,-0.55],[25,-0.45],[26,-0.4],[27,-0.5],[28,-0.5],[29,-0.55],[30,-0.6],[31,-0.65],[32,-0.7],[33,-0.8],[34,-0.85],[35,-0.9],[36,-0.9],[37,-0.85],[38,-0.85],[39,-0.8],[40,-0.82],[41,-0.85],[42,-0.85],[43,-0.78],[44,-0.75],[45,-0.78],[46,-0.8],[48,-0.85],[50,-0.9],[52,-0.95],[55,-1.0],[58,-1.02],[60,-1.05],[63,-1.05],[65,-1.05],[68,-1.08],[70,-1.1],[73,-1.08],[75,-1.05],[78,-1.05],[80,-1.05],[83,-1.05],[85,-1.05],[88,-1.05],[90,-1.05],[95,-1.05],[100,-1.05],[103,-1.08],[105,-1.1],[108,-1.12],[110,-1.15],[113,-1.15],[115,-1.15],[118,-1.15],[120,-1.15],[123,-1.18],[125,-1.15],[128,-1.15],[130,-1.15],[133,-1.12],[135,-1.1],[138,-1.12],[140,-1.1]];

const panels = [
  [min1, max1, med1], [min2, max2, med2], [min3, max3, med3], [min4, max4, med4],
  [min5, max5, med5], [min6, max6, med6], [min7, max7, med7], [min8, max8, med8],
  [min9, max9, med9], [min10, max10, med10], [min11, max11, med11], [min12, max12, med12]
];

// ---- Layout / style ----
const LEFTS = [50, 246, 442, 638], TOPS = [78, 353, 628], GW = 151, GH = 211;
const COLORS = ['#000000', '#3a55a8', '#e8312f'];
const DASH = [[5, 3], [5, 3], 'solid'];
const SANS = 'DejaVu Sans';
const MATH = 'DejaVu Serif';

const grids = [], xAxes = [], yAxes = [], series = [];
const titles = [
  { text: 'Average Surface Tension', left: 'center', top: 2, padding: 0,
    textStyle: { fontSize: 13, fontWeight: 'bold', fontFamily: SANS, color: '#000' } },
  { text: 'Time [Months]', left: 'center', top: 877, padding: 0,
    textStyle: { fontSize: 13, fontWeight: 'bold', fontFamily: SANS, color: '#000' } }
];

const tickStyle = { inside: true, length: 5, lineStyle: { color: '#000', width: 1 } };
const lineStyleAx = { color: '#000', width: 1 };
const labelStyle = { fontSize: 11, fontFamily: SANS, color: '#1a1a1a' };

for (let r = 0; r < 3; r++) {
  for (let c = 0; c < 4; c++) {
    const i = r * 4 + c;
    grids.push({ left: LEFTS[c], top: TOPS[r], width: GW, height: GH });
    const dec = yStep[i] < 1;
    const fmtY = v => (dec ? v.toFixed(1) : String(Math.round(v))).replace('-', '\u2212');
    xAxes.push({ gridIndex: i, type: 'value', position: 'bottom', min: xTicks[0], max: xTicks[xTicks.length - 1],
      interval: xTicks[1] - xTicks[0],
      axisLine: { onZero: false, lineStyle: lineStyleAx }, axisTick: tickStyle,
      axisLabel: Object.assign({ margin: 4, showMinLabel: true, showMaxLabel: true }, labelStyle),
      splitLine: { show: false } });
    xAxes.push({ gridIndex: i, type: 'value', position: 'top', min: xTicks[0], max: xTicks[xTicks.length - 1],
      interval: xTicks[1] - xTicks[0],
      axisLine: { onZero: false, lineStyle: lineStyleAx }, axisTick: tickStyle,
      axisLabel: { show: false }, splitLine: { show: false } });
    const yl = { gridIndex: i, type: 'value', position: 'left', min: yMin[i], max: yMax[i], interval: yStep[i],
      axisLine: { show: true, onZero: false, lineStyle: lineStyleAx }, axisTick: tickStyle,
      axisLabel: Object.assign({ margin: 4, formatter: fmtY, showMinLabel: true, showMaxLabel: true }, labelStyle),
      splitLine: { show: false } };
    if (c === 0) {
      yl.name = 'Surface Tension';
      yl.nameLocation = 'middle';
      yl.nameGap = 22;
      yl.nameTextStyle = { fontSize: 18, fontFamily: SANS, color: '#000' };
    }
    yAxes.push(yl);
    yAxes.push({ gridIndex: i, type: 'value', position: 'right', min: yMin[i], max: yMax[i], interval: yStep[i],
      axisLine: { show: true, onZero: false, lineStyle: lineStyleAx }, axisTick: tickStyle,
      axisLabel: { show: false }, splitLine: { show: false } });

    panels[i].forEach((d, k) => {
      series.push({
        name: seriesNames[k], type: 'line', data: d,
        xAxisIndex: 2 * i, yAxisIndex: 2 * i,
        symbol: 'none', showSymbol: false, silent: true, animation: false,
        lineStyle: { color: COLORS[k], width: k === 2 ? 1.2 : 1.1, type: DASH[k] },
        itemStyle: { color: COLORS[k] },
        z: k === 2 ? 3 : 2
      });
    });

    titles.push({
      text: `{i|P}{s|m}{n| =${pmValues[r]} }{i|\u03b4}{s|d}{n| =${deltaValues[c]}}`,
      left: LEFTS[c] + GW / 2, top: TOPS[r] - 26, padding: 0, textAlign: 'center',
      textStyle: {
        fontWeight: 'normal',
        rich: {
          i: { fontFamily: MATH, fontStyle: 'italic', fontWeight: 'normal', fontSize: 19, lineHeight: 30, color: '#000' },
          n: { fontFamily: MATH, fontWeight: 'normal', fontSize: 19, lineHeight: 30, color: '#000' },
          s: { fontFamily: MATH, fontStyle: 'italic', fontWeight: 'normal', fontSize: 13, lineHeight: 12, padding: [17, 0, 0, 0], color: '#000' }
        }
      }
    });
  }
}

// ---- Legend (drawn in the first panel) ----
const LG = { x: 57, y: 223, w: 91, h: 60, row0: 11, rowStep: 19, lineX1: 65, lineX2: 85, textX: 97 };
const graphics = [{
  type: 'rect', shape: { x: LG.x + 0.5, y: LG.y + 0.5, width: LG.w, height: LG.h },
  style: { fill: '#fff', stroke: '#000', lineWidth: 1 }, z: 100, silent: true
}];
seriesNames.forEach((nm, k) => {
  const yy = LG.y + LG.row0 + k * LG.rowStep + 0.5;
  graphics.push({
    type: 'line', shape: { x1: LG.lineX1, y1: yy, x2: LG.lineX2, y2: yy },
    style: { stroke: COLORS[k], lineWidth: 1.2, lineDash: k < 2 ? [5, 4] : null }, z: 101, silent: true
  });
  graphics.push({
    type: 'text', x: LG.textX, y: yy,
    style: { text: nm, font: '13px "DejaVu Sans"', fill: '#000', verticalAlign: 'middle', align: 'left' },
    z: 101, silent: true
  });
});

const chart = echarts.init(document.getElementById('c'), null, { renderer: 'canvas' });
chart.setOption({
  backgroundColor: '#fff',
  animation: false,
  title: titles,
  grid: grids,
  xAxis: xAxes,
  yAxis: yAxes,
  graphic: graphics,
  series: series
});
</script>
</body>
</html>
